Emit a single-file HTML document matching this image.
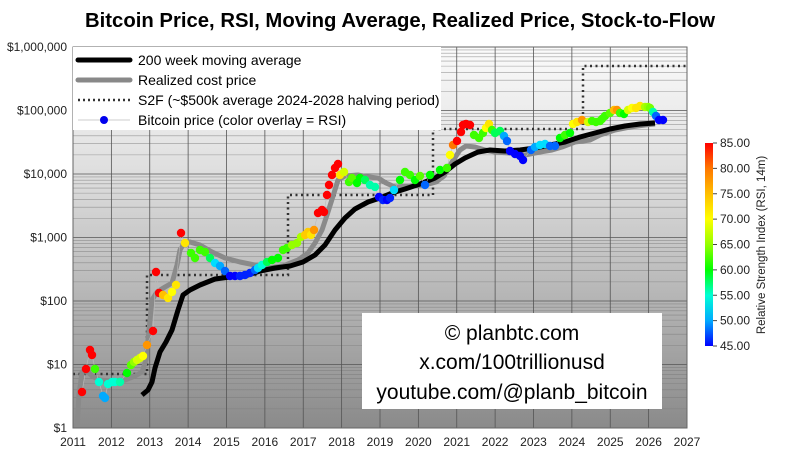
<!DOCTYPE html>
<html><head><meta charset="utf-8"><style>
html,body{margin:0;padding:0;background:#fff;}
svg{display:block;font-family:"Liberation Sans",sans-serif;}
</style></head><body>
<svg id="s" width="800" height="458" viewBox="0 0 800 458" xmlns="http://www.w3.org/2000/svg">
<defs>
<linearGradient id="bg" x1="0" y1="0" x2="0" y2="1">
<stop offset="0" stop-color="#fbfbfb"/><stop offset="0.35" stop-color="#dcdcdc"/><stop offset="1" stop-color="#8a8a8a"/>
</linearGradient>
<linearGradient id="jet" x1="0" y1="1" x2="0" y2="0" id2="j">
<stop offset="0" stop-color="hsl(240,100%,50%)"/><stop offset="0.125" stop-color="hsl(200,100%,50%)"/><stop offset="0.25" stop-color="hsl(170,100%,50%)"/><stop offset="0.375" stop-color="hsl(120,100%,50%)"/><stop offset="0.5" stop-color="hsl(85,100%,50%)"/><stop offset="0.625" stop-color="hsl(60,100%,50%)"/><stop offset="0.75" stop-color="hsl(45,100%,50%)"/><stop offset="0.875" stop-color="hsl(28,100%,50%)"/><stop offset="1" stop-color="hsl(0,100%,50%)"/>
</linearGradient>
</defs>
<text x="400" y="27" text-anchor="middle" font-size="20" font-weight="bold" textLength="630" lengthAdjust="spacingAndGlyphs">Bitcoin Price, RSI, Moving Average, Realized Price, Stock-to-Flow</text>
<rect x="73" y="47" width="614" height="381" fill="url(#bg)"/>
<g id="grid"></g>
<g id="series"></g>
<rect x="73" y="47" width="614" height="381" fill="none" stroke="#666" stroke-width="1"/>
<rect x="73" y="47" width="368" height="83" fill="#fff"/>
<line x1="78" y1="60" x2="130" y2="60" stroke="#000" stroke-width="5" stroke-linecap="round"/>
<line x1="78" y1="80" x2="130" y2="80" stroke="#888" stroke-width="5" stroke-linecap="round"/>
<line x1="78" y1="100" x2="130" y2="100" stroke="#333" stroke-width="2.5" stroke-dasharray="2,3"/>
<line x1="78" y1="120" x2="130" y2="120" stroke="#ccc" stroke-width="1"/>
<circle cx="104" cy="120" r="4" fill="#0000ee"/>
<g font-size="14" fill="#000">
<text x="138" y="65">200 week moving average</text>
<text x="138" y="85">Realized cost price</text>
<text x="138" y="105">S2F (~$500k average 2024-2028 halving period)</text>
<text x="138" y="125">Bitcoin price (color overlay = RSI)</text>
</g>
<rect x="362" y="313" width="300" height="96" fill="#fff"/>
<g font-size="21" text-anchor="middle" fill="#000">
<text x="512" y="340">© planbtc.com</text>
<text x="512" y="369">x.com/100trillionusd</text>
<text x="512" y="399">youtube.com/@planb_bitcoin</text>
</g>
<g id="axes" font-size="12" fill="#222"></g>
<rect x="705" y="143" width="8" height="203" fill="url(#jet)"/>
<g id="cb" font-size="12" fill="#222"></g>
<text transform="translate(765,245) rotate(-90)" text-anchor="middle" font-size="11.5" fill="#222">Relative Strength Index (RSI, 14m)</text>
</svg>
<script>
var NS="http://www.w3.org/2000/svg";
function el(p,t,a,txt){var e=document.createElementNS(NS,t);for(var k in a)e.setAttribute(k,a[k]);if(txt!==undefined)e.textContent=txt;document.getElementById(p).appendChild(e);return e;}
function X(y){return 73+(y-2011)*38.375;}
function Y(p){return 428-Math.log10(p)*63.5;}
for(var d=0;d<6;d++){for(var m=2;m<=9;m++){var yy=Y(Math.pow(10,d)*m);el("grid","line",{x1:73,x2:687,y1:yy,y2:yy,stroke:"#777","stroke-width":0.6,opacity:0.7});}}
for(var d=0;d<=6;d++){var yy=Y(Math.pow(10,d));el("grid","line",{x1:73,x2:687,y1:yy,y2:yy,stroke:"#555","stroke-width":0.8});}
for(var yr=2011;yr<=2027;yr++){el("grid","line",{x1:X(yr),x2:X(yr),y1:47,y2:428,stroke:"#555","stroke-width":0.8});
el("axes","text",{x:X(yr),y:446,"text-anchor":"middle"},String(yr));}
var labs=["$1","$10","$100","$1,000","$10,000","$100,000","$1,000,000"];
for(var d=0;d<=6;d++)el("axes","text",{x:67,y:Y(Math.pow(10,d))+4,"text-anchor":"end"},labs[d]);
for(var v=45;v<=85;v+=5){var yy=346-(v-45)/40*203;el("cb","line",{x1:713,x2:717,y1:yy,y2:yy,stroke:"#444"});el("cb","text",{x:720,y:yy+4},v.toFixed(2));}
function pl(pts){return pts.map(function(p){return p[0]+","+p[1]}).join(" ");}
var s2f=[[73,374],[147,374],[147,275],[288,275],[288,195],[433,195],[433,129],[583,129],[583,66],[687,66]];
el("series","polyline",{points:pl(s2f),fill:"none",stroke:"#333","stroke-width":2.5,"stroke-dasharray":"2,3.5"});
var rp=[[77,428],[79,395],[82,372],[86,370],[92,376],[100,380],[110,381],[125,380],[135,376],[142,372],[146,360],[149,330],[152,300],[157,292],[165,287],[172,283],[177,265],[180,250],[184,243],[190,242],[200,245],[212,252],[225,258],[240,262],[255,265],[268,268],[283,266],[298,260],[308,253],[315,243],[322,230],[328,212],[334,193],[338,180],[345,176],[358,175],[368,177],[378,178],[386,183],[395,187],[410,186],[425,185],[436,182],[444,176],[452,162],[460,150],[466,146],[475,147],[485,150],[495,152],[510,153],[525,155],[540,152],[552,150],[562,147],[575,142],[590,140],[600,135],[615,130],[630,127],[645,125],[655,124]];
el("series","polyline",{points:pl(rp),fill:"none",stroke:"#8a8a8a","stroke-width":5,"stroke-linejoin":"round"});
var ma=[[142,395],[148,390],[152,382],[155,368],[160,352],[166,342],[172,330],[178,310],[183,295],[190,290],[200,285],[215,279],[230,277],[245,276],[260,271],[275,268],[290,266],[303,262],[315,255],[325,245],[335,230],[345,218],[355,209],[368,202],[380,198],[392,193],[405,189],[420,184],[435,178],[445,172],[455,164],[465,158],[478,152],[490,150],[505,151],[520,150],[535,148],[550,145],[565,142],[580,137],[595,133],[610,129],[625,126],[640,124],[655,123]];
el("series","polyline",{points:pl(ma),fill:"none",stroke:"#000","stroke-width":5,"stroke-linejoin":"round"});
var H=[[45,240],[50,200],[55,170],[60,120],[65,85],[70,60],[75,45],[80,28],[85,0]];
function jet(v){v=Math.max(45,Math.min(85,v));for(var i=0;i<H.length-1;i++){if(v<=H[i+1][0]){var f=(v-H[i][0])/5;return "hsl("+(H[i][1]+f*(H[i+1][1]-H[i][1])).toFixed(0)+",100%,50%)";}}return "hsl(0,100%,50%)";}
var dots=[[82,392,85],[86,369,85],[90,350,85],[92,355,85],[95,369,62],[99,382,55],[103,396,50],[105,398,50],[108,384,55],[112,382,55],[115,382,55],[120,382,56],[127,373,60],[131,365,63],[134,362,65],[137,360,68],[140,358,68],[143,356,70],[147,345,78],[153,331,85],[156,272,85],[159,293,85],[163,295,75],[168,298,72],[172,292,70],[176,285,72],[181,233,85],[185,243,72],[191,253,62],[195,258,62],[200,250,62],[205,252,62],[210,258,58],[215,263,52],[220,266,50],[225,271,48],[230,276,45],[235,276,45],[240,276,46],[245,275,46],[250,273,46],[255,270,48],[258,268,52],[262,265,55],[267,262,58],[272,260,60],[278,258,60],[283,250,62],[287,248,62],[292,245,65],[297,243,65],[301,237,66],[305,235,74],[308,232,74],[311,235,72],[314,230,78],[318,213,85],[322,210,85],[324,212,85],[327,195,85],[329,185,85],[332,175,85],[335,168,85],[338,164,85],[340,175,72],[344,172,68],[349,182,62],[352,178,63],[357,183,60],[360,178,60],[365,180,58],[370,185,56],[375,187,56],[379,197,45],[383,200,46],[387,200,45],[390,198,46],[394,190,52],[400,180,60],[405,172,62],[410,175,62],[415,180,60],[420,176,63],[425,185,48],[430,175,60],[440,170,60],[447,168,62],[450,155,70],[453,145,80],[457,141,85],[461,132,85],[463,125,85],[466,124,85],[470,125,85],[474,135,62],[479,138,62],[483,133,62],[486,128,70],[489,124,72],[492,130,62],[495,133,58],[500,131,58],[504,136,50],[507,141,48],[510,151,45],[515,154,45],[520,156,45],[523,160,45],[531,150,48],[535,147,50],[540,145,52],[545,144,52],[550,146,48],[555,146,48],[560,138,60],[565,135,62],[570,133,60],[573,124,70],[577,122,72],[582,120,78],[588,122,68],[592,121,62],[596,122,62],[600,121,62],[602,119,62],[605,116,62],[610,113,63],[614,110,75],[617,110,78],[620,113,62],[624,114,60],[628,110,68],[632,108,70],[636,108,72],[640,106,72],[645,107,66],[648,107,65],[650,108,64],[653,112,56],[656,116,48],[659,120,45],[663,120,45]];
el("series","polyline",{points:pl(dots),fill:"none",stroke:"#bbb","stroke-width":0.6});
dots.forEach(function(d){el("series","circle",{cx:d[0],cy:d[1],r:4.2,fill:jet(d[2])});});
</script>
</body></html>
